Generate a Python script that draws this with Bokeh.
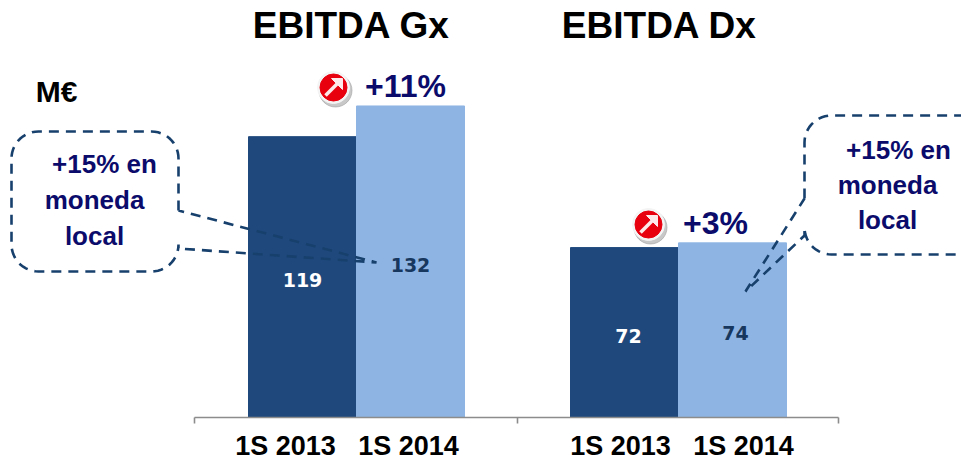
import numpy as np
from bokeh.embed import file_html
from bokeh.resources import INLINE
from bokeh.plotting import figure
from bokeh.models import Range1d, LinearAxis, FixedTicker, ColumnDataSource
from bokeh.core.properties import value

# ---- data
groups = ["EBITDA Gx", "EBITDA Dx"]
periods = ["1S 2013", "1S 2014"]
gx_values = [119, 132]
dx_values = [72, 74]
gx_growth = "+11%"
dx_growth = "+3%"
unit_label = "M€"
note_lines = ["+15% en", "moneda", "local"]

# ---- layout (page pixels)
W, H = 961, 460
BASE_PX = 417
PX_PER_UNIT = 2.36
BAR_W = 108
GROUP_CENTRES = [356, 678]
NAVY = "#0b0b6b"
DARK = "#1f497d"
LIGHT = "#8eb4e3"
LINE = "#17406d"
FONT = "Liberation Sans"

p = figure(frame_width=W, frame_height=BASE_PX,
           x_range=Range1d(0, W),
           y_range=Range1d(0, BASE_PX / PX_PER_UNIT),
           x_axis_type=None, y_axis_type=None,
           output_backend="svg", toolbar_location=None,
           min_border=0, min_border_left=0, min_border_right=0, min_border_top=0, min_border_bottom=0)
p.extra_y_ranges["px"] = Range1d(BASE_PX, 0)
p.grid.visible = False
p.outline_line_color = None
p.background_fill_color = "white"

# ---- bars
xs = [GROUP_CENTRES[0] - BAR_W / 2, GROUP_CENTRES[0] + BAR_W / 2,
      GROUP_CENTRES[1] - BAR_W / 2, GROUP_CENTRES[1] + BAR_W / 2]
vals = gx_values + dx_values
cols = [DARK, LIGHT, DARK, LIGHT]
lab_cols = ["white", "#17375e", "white", "#17375e"]
lab_x = [x + d for x, d in zip(xs, [0, 0, 4, 3])]
src = ColumnDataSource(dict(x=xs, lx=lab_x, top=vals, color=cols, label=[str(v) for v in vals],
                            mid=[v / 2 for v in vals], lc=lab_cols))
p.vbar(x="x", top="top", bottom=0, width=BAR_W, color="color", source=src)
p.text(x="lx", y="mid", text="label", text_color="lc", source=src, text_align="center",
       text_baseline="middle", y_offset=3, text_font=value("DejaVu Sans"),
       text_font_style="bold", text_font_size="19px")


def label(x, y, s, size, color="black", font=FONT):
    p.text(x=[x], y=[y], text=[s], text_color=color, text_align="center", text_baseline="middle",
           text_font=value(font), text_font_style="bold", text_font_size=f"{size}px", y_range_name="px")


def callout(x0, y0, x1, y1, r, tip, side, a, b):
    """Rounded box outline with a wedge running to `tip`, leaving side at y=a and y=b."""
    def arc(cx, cy, t0, t1):
        t = np.radians(np.linspace(t0, t1, 14))
        return cx + r * np.cos(t), cy + r * np.sin(t)
    sx = x1 if side == "right" else x0
    if side == "right":
        segs = [([sx, sx], [a, y0 + r]), arc(x1 - r, y0 + r, 0, -90), arc(x0 + r, y0 + r, -90, -180),
                arc(x0 + r, y1 - r, 180, 90), arc(x1 - r, y1 - r, 90, 0), ([sx, sx], [y1 - r, b])]
    else:
        segs = [([sx, sx], [a, y0 + r]), arc(x0 + r, y0 + r, 180, 270), arc(x1 - r, y0 + r, -90, 0),
                arc(x1 - r, y1 - r, 0, 90), arc(x0 + r, y1 - r, 90, 180), ([sx, sx], [y1 - r, b])]
    px = np.concatenate([np.asarray(s[0], float) for s in segs] + [[tip[0], sx]])
    py = np.concatenate([np.asarray(s[1], float) for s in segs] + [[tip[1], a]])
    p.line(px, py, line_color=LINE, line_width=2.6, line_dash="10 7", y_range_name="px")


def badge(cx, cy):
    p.scatter([cx + 2], [cy + 3], size=33, color="#9a9a9a", alpha=0.55, y_range_name="px")
    p.scatter([cx], [cy], size=32, color="#f4f4f4", y_range_name="px")
    p.scatter([cx], [cy], size=27, color="#e8000f", y_range_name="px")
    p.line([cx - 8, cx + 5], [cy + 8, cy - 5], line_color="#fde9e9", line_width=3.6, y_range_name="px")
    p.patch([cx + 9, cx - 2, cx + 9], [cy - 9, cy - 9, cy + 2], color="#fde9e9", y_range_name="px")


# ---- titles and notes
label(351, 25, groups[0], 37)
label(659, 25, groups[1], 37)
label(56, 91, unit_label, 30)
label(405, 85, gx_growth, 32, NAVY)
label(715, 222, dx_growth, 32, NAVY)
badge(333, 87)
badge(648, 224)

callout(11, 131, 178, 271, 27, (376, 262), "right", 210, 248)
callout(804, 115, 990, 254, 27, (745, 291), "left", 198, 235)
for s, x, y in zip(note_lines, [104, 94, 94], [163, 199, 235]):
    label(x, y, s, 26, NAVY)
for s, x, y in zip(note_lines, [898, 887, 887], [149, 184, 219]):
    label(x, y, s, 26, NAVY)

# ---- axis
label_pos = [285, 408, 620, 743]
boundaries = [194, 517, 838]
ax = LinearAxis(ticker=FixedTicker(ticks=label_pos, minor_ticks=boundaries),
                major_label_overrides={k: v for k, v in zip(label_pos, periods * 2)},
                bounds=(boundaries[0], boundaries[-1]))
ax.axis_line_color = "#8c8c8c"
ax.axis_line_width = 1.6
ax.major_tick_line_color = None
ax.minor_tick_line_color = "#8c8c8c"
ax.minor_tick_line_width = 1.6
ax.minor_tick_out = 6
ax.minor_tick_in = 0
ax.major_label_standoff = 7
ax.major_label_text_font = FONT
ax.major_label_text_font_style = "bold"
ax.major_label_text_font_size = "27px"
ax.major_label_text_line_height = 1.0
ax.major_label_text_color = "black"
ax.major_label_orientation = "horizontal"
p.add_layout(ax, "below")

open("out.html", "w").write(file_html(p, INLINE))
